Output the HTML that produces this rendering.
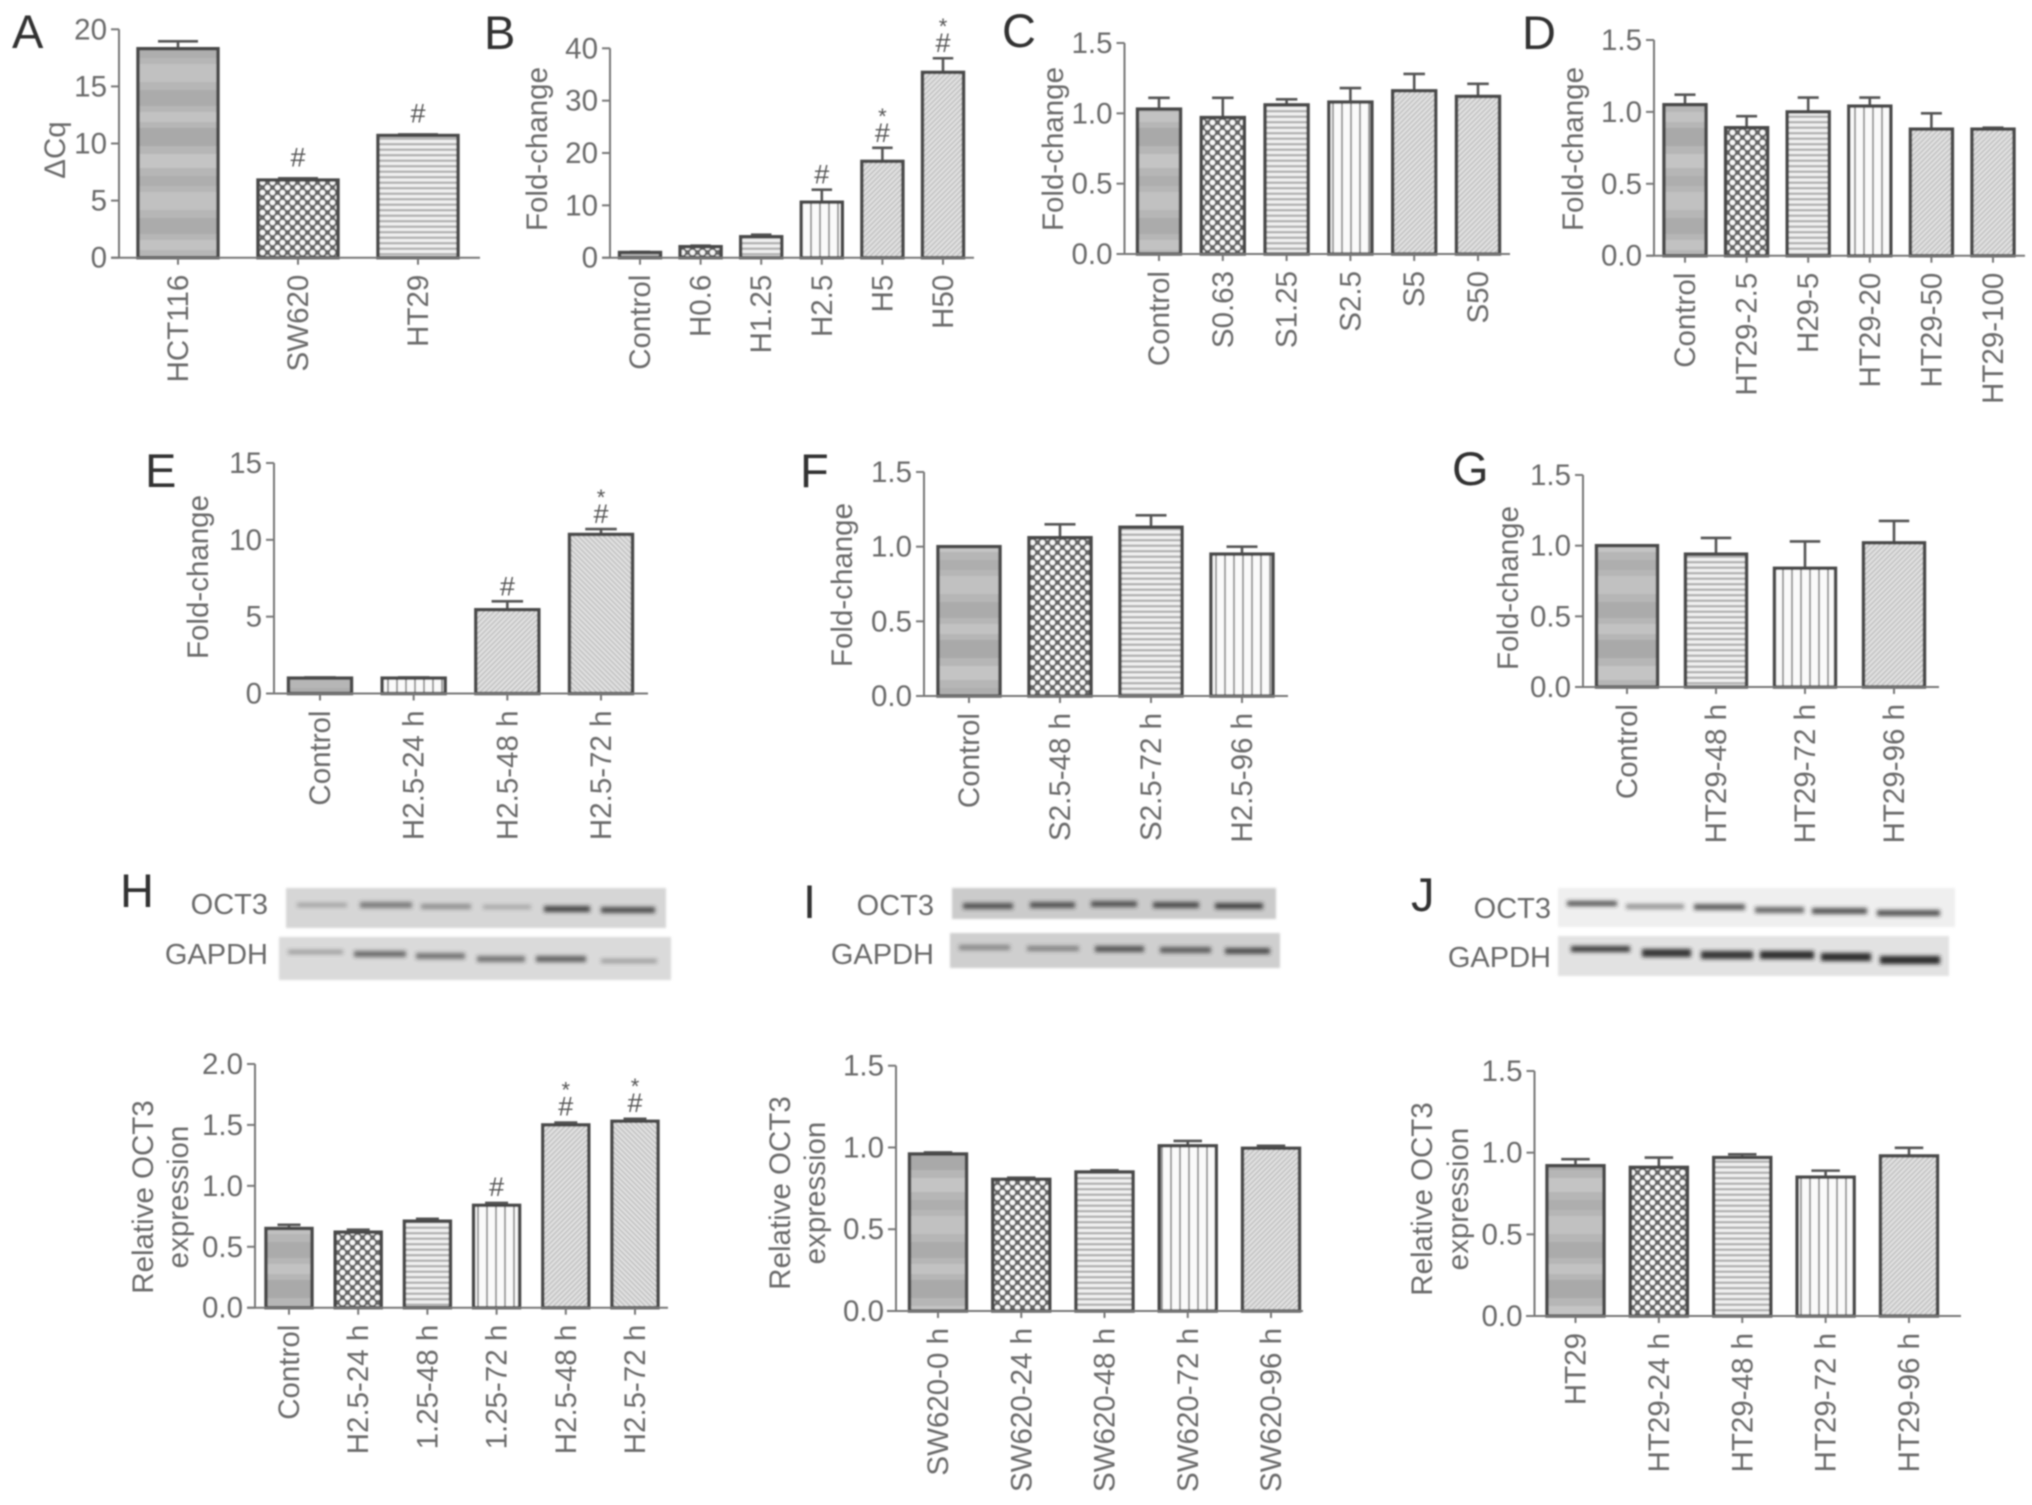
<!DOCTYPE html>
<html lang="en">
<head>
<meta charset="utf-8">
<title>OCT3 expression figure</title>
<style>
html,body{margin:0;padding:0;background:#fff;}
#figure{display:block;width:2032px;height:1505px;background:#fff;}
#figure text{font-family:"Liberation Sans",sans-serif;}
.tick-text,.title-text{fill:#6a6a6a;font-size:29.5px;}
.blot-label{fill:#6a6a6a;font-size:29px;}
.panel-letter{fill:#333;font-size:47px;}
.mark-text{fill:#555;font-size:27px;}
.soft{filter:url(#soft);}
.band{fill:#222;filter:url(#bandblur);}
.blot{filter:url(#edgeblur);}
</style>
</head>
<body>
<svg id="figure" xmlns="http://www.w3.org/2000/svg" width="2032" height="1505" viewBox="0 0 2032 1505">
<defs>
<filter id="soft" x="-2%" y="-2%" width="104%" height="104%"><feGaussianBlur stdDeviation="0.7"/></filter>
<filter id="bandblur" x="-20%" y="-300%" width="140%" height="700%"><feGaussianBlur stdDeviation="2"/></filter>
<filter id="edgeblur" x="-3%" y="-10%" width="106%" height="120%"><feGaussianBlur stdDeviation="1.2"/></filter>
<pattern id="fill-gray" patternUnits="userSpaceOnUse" width="8" height="128">
<rect width="8" height="128" fill="#b6b6b6"/>
<rect y="0" width="8" height="18" fill="#a9a9a9"/>
<rect y="26" width="8" height="14" fill="#c4c4c4"/>
<rect y="48" width="8" height="10" fill="#aeaeae"/>
<rect y="64" width="8" height="18" fill="#c1c1c1"/>
<rect y="90" width="8" height="16" fill="#ababab"/>
<rect y="112" width="8" height="10" fill="#c2c2c2"/>
</pattern>
<pattern id="fill-check" patternUnits="userSpaceOnUse" width="10" height="10">
<rect width="10" height="10" fill="#666"/>
<circle cx="2.5" cy="2.5" r="2.6" fill="#f6f6f6"/>
<circle cx="7.5" cy="7.5" r="2.6" fill="#f6f6f6"/>
</pattern>
<pattern id="fill-hlines" patternUnits="userSpaceOnUse" width="8" height="5.5">
<rect width="8" height="5.5" fill="#f0f0f0"/>
<rect y="0" width="8" height="2.4" fill="#b2b2b2"/>
</pattern>
<pattern id="fill-vlines" patternUnits="userSpaceOnUse" width="9" height="8">
<rect width="9" height="8" fill="#fafafa"/>
<rect x="0" width="2" height="8" fill="#9a9a9a"/>
</pattern>
<pattern id="fill-diag" patternUnits="userSpaceOnUse" width="3.6" height="3.6" patternTransform="rotate(45)">
<rect width="3.6" height="3.6" fill="#e2e2e2"/>
<rect width="1.6" height="3.6" fill="#c2c2c2"/>
</pattern>
<pattern id="fill-diag2" patternUnits="userSpaceOnUse" width="3.6" height="3.6" patternTransform="rotate(-45)">
<rect width="3.6" height="3.6" fill="#e2e2e2"/>
<rect width="1.6" height="3.6" fill="#c2c2c2"/>
</pattern>
</defs>

<g class="soft">
<text class="panel-letter" x="12" y="48">A</text>
<text class="panel-letter" x="484" y="49">B</text>
<text class="panel-letter" x="1002" y="47">C</text>
<text class="panel-letter" x="1522" y="49">D</text>
<text class="panel-letter" x="145" y="487">E</text>
<text class="panel-letter" x="800" y="487">F</text>
<text class="panel-letter" x="1452" y="485">G</text>
<text class="panel-letter" x="120" y="907">H</text>
<text class="panel-letter" x="803" y="918">I</text>
<text class="panel-letter" x="1411" y="911">J</text>
</g>

<g class="soft">
<text class="blot-label" x="268" y="914" text-anchor="end">OCT3</text>
<text class="blot-label" x="268" y="964" text-anchor="end">GAPDH</text>
<text class="blot-label" x="934" y="915" text-anchor="end">OCT3</text>
<text class="blot-label" x="934" y="964" text-anchor="end">GAPDH</text>
<text class="blot-label" x="1551" y="918" text-anchor="end">OCT3</text>
<text class="blot-label" x="1551" y="967" text-anchor="end">GAPDH</text>
</g>

<g>
<rect class="blot" x="286" y="888" width="380" height="40" fill="#d6d6d6"/>
<rect class="band" x="297" y="903" width="50" height="4" opacity=".3"/>
<rect class="band" x="360" y="902" width="52" height="6" opacity=".5"/>
<rect class="band" x="421" y="904" width="50" height="5" opacity=".4"/>
<rect class="band" x="483" y="905" width="48" height="4" opacity=".28"/>
<rect class="band" x="544" y="906" width="46" height="6" opacity=".8"/>
<rect class="band" x="601" y="907" width="54" height="6" opacity=".75"/>
</g>
<g>
<rect class="blot" x="279" y="937" width="392" height="43" fill="#dadada"/>
<rect class="band" x="288" y="950" width="55" height="4" opacity=".35"/>
<rect class="band" x="354" y="951" width="52" height="6" opacity=".6"/>
<rect class="band" x="416" y="953" width="49" height="6" opacity=".55"/>
<rect class="band" x="477" y="956" width="48" height="6" opacity=".55"/>
<rect class="band" x="536" y="956" width="50" height="6" opacity=".65"/>
<rect class="band" x="601" y="959" width="56" height="4" opacity=".35"/>
</g>
<g>
<rect class="blot" x="952" y="888" width="324" height="31" fill="#cbcbcb"/>
<rect class="band" x="963" y="903" width="50" height="6" opacity=".7"/>
<rect class="band" x="1030" y="902" width="45" height="6" opacity=".7"/>
<rect class="band" x="1091" y="901" width="46" height="6" opacity=".7"/>
<rect class="band" x="1153" y="902" width="46" height="6" opacity=".75"/>
<rect class="band" x="1215" y="903" width="48" height="6" opacity=".8"/>
</g>
<g>
<rect class="blot" x="950" y="933" width="330" height="35" fill="#cfcfcf"/>
<rect class="band" x="959" y="945" width="51" height="5" opacity=".42"/>
<rect class="band" x="1027" y="946" width="52" height="5" opacity=".45"/>
<rect class="band" x="1095" y="946" width="49" height="6" opacity=".7"/>
<rect class="band" x="1160" y="947" width="51" height="6" opacity=".65"/>
<rect class="band" x="1225" y="948" width="45" height="6" opacity=".75"/>
</g>
<g>
<rect class="blot" x="1558" y="888" width="397" height="39" fill="#efefef"/>
<rect class="band" x="1567" y="901" width="50" height="5" opacity=".75"/>
<rect class="band" x="1626" y="904" width="58" height="5" opacity=".45"/>
<rect class="band" x="1694" y="904" width="51" height="6" opacity=".7"/>
<rect class="band" x="1755" y="907" width="49" height="6" opacity=".65"/>
<rect class="band" x="1812" y="908" width="55" height="6" opacity=".75"/>
<rect class="band" x="1877" y="910" width="63" height="6" opacity=".75"/>
</g>
<g>
<rect class="blot" x="1558" y="936" width="391" height="40" fill="#e2e2e2"/>
<rect class="band" x="1571" y="946" width="59" height="6" opacity=".85"/>
<rect class="band" x="1642" y="949" width="49" height="8" opacity=".9"/>
<rect class="band" x="1701" y="951" width="52" height="8" opacity=".9"/>
<rect class="band" x="1760" y="951" width="54" height="8" opacity=".95"/>
<rect class="band" x="1821" y="953" width="50" height="8" opacity=".95"/>
<rect class="band" x="1880" y="956" width="60" height="8" opacity=".95"/>
</g>

<g id="charts" class="soft"></g>
</svg>

<script>
const panelACategories = ['HCT116', 'SW620', 'HT29'];
const panelAValues = [18.3, 6.8, 10.7];
const panelAErrors = [0.65, 0.15, 0.1];
const panelAMarks = ['', '#', '#'];
const panelATicks = ['0', '5', '10', '15', '20'];

const panelBCategories = ['Control', 'H0.6', 'H1.25', 'H2.5', 'H5', 'H50'];
const panelBValues = [1.0, 2.1, 4.0, 10.6, 18.4, 35.4];
const panelBErrors = [0.1, 0.2, 0.4, 2.4, 2.6, 2.7];
const panelBMarks = ['', '', '', '#', '#*', '#*'];
const panelBTicks = ['0', '10', '20', '30', '40'];

const panelCCategories = ['Control', 'S0.63', 'S1.25', 'S2.5', 'S5', 'S50'];
const panelCValues = [1.03, 0.97, 1.06, 1.08, 1.16, 1.12];
const panelCErrors = [0.08, 0.14, 0.04, 0.1, 0.12, 0.09];
const panelCMarks = ['', '', '', '', '', ''];
const panelCTicks = ['0.0', '0.5', '1.0', '1.5'];

const panelDCategories = ['Control', 'HT29-2.5', 'H29-5', 'HT29-20', 'HT29-50', 'HT29-100'];
const panelDValues = [1.05, 0.89, 1.0, 1.04, 0.88, 0.88];
const panelDErrors = [0.07, 0.08, 0.1, 0.06, 0.11, 0.01];
const panelDMarks = ['', '', '', '', '', ''];
const panelDTicks = ['0.0', '0.5', '1.0', '1.5'];

const panelECategories = ['Control', 'H2.5-24 h', 'H2.5-48 h', 'H2.5-72 h'];
const panelEValues = [1.0, 1.0, 5.45, 10.35];
const panelEErrors = [0.05, 0.05, 0.55, 0.35];
const panelEMarks = ['', '', '#', '#*'];
const panelETicks = ['0', '5', '10', '15'];

const panelFCategories = ['Control', 'S2.5-48 h', 'S2.5-72 h', 'H2.5-96 h'];
const panelFValues = [1.0, 1.06, 1.13, 0.95];
const panelFErrors = [0, 0.09, 0.08, 0.05];
const panelFMarks = ['', '', '', ''];
const panelFTicks = ['0.0', '0.5', '1.0', '1.5'];

const panelGCategories = ['Control', 'HT29-48 h', 'HT29-72 h', 'HT29-96 h'];
const panelGValues = [1.0, 0.94, 0.84, 1.02];
const panelGErrors = [0, 0.115, 0.19, 0.155];
const panelGMarks = ['', '', '', ''];
const panelGTicks = ['0.0', '0.5', '1.0', '1.5'];

const panelHCategories = ['Control', 'H2.5-24 h', '1.25-48 h', '1.25-72 h', 'H2.5-48 h', 'H2.5-72 h'];
const panelHValues = [0.65, 0.62, 0.71, 0.84, 1.5, 1.53];
const panelHErrors = [0.03, 0.02, 0.02, 0.02, 0.02, 0.02];
const panelHMarks = ['', '', '', '#', '#*', '#*'];
const panelHTicks = ['0.0', '0.5', '1.0', '1.5', '2.0'];

const panelICategories = ['SW620-0 h', 'SW620-24 h', 'SW620-48 h', 'SW620-72 h', 'SW620-96 h'];
const panelIValues = [0.96, 0.805, 0.85, 1.01, 0.995];
const panelIErrors = [0.01, 0.01, 0.01, 0.03, 0.015];
const panelIMarks = ['', '', '', '', ''];
const panelITicks = ['0.0', '0.5', '1.0', '1.5'];

const panelJCategories = ['HT29', 'HT29-24 h', 'HT29-48 h', 'HT29-72 h', 'HT29-96 h'];
const panelJValues = [0.92, 0.91, 0.97, 0.85, 0.98];
const panelJErrors = [0.04, 0.06, 0.02, 0.04, 0.05];
const panelJMarks = ['', '', '', '', ''];
const panelJTicks = ['0.0', '0.5', '1.0', '1.5'];

const panels = [
  {id:'a', cats:panelACategories, vals:panelAValues, errs:panelAErrors, marks:panelAMarks, ticks:panelATicks, fills:['gray','check','hlines'],
   ax:119, l:111, r:480, top:29.3, base:257.7, first:178, last:418, w:80, markGap:12, titles:[['ΔCq',65,150]]},
  {id:'b', cats:panelBCategories, vals:panelBValues, errs:panelBErrors, marks:panelBMarks, ticks:panelBTicks, fills:['gray','check','hlines','vlines','diag','diag'],
   ax:610, l:602, r:974, top:48.3, base:257.7, first:640, last:943, w:41, markGap:6, titles:[['Fold-change',547,149]]},
  {id:'c', cats:panelCCategories, vals:panelCValues, errs:panelCErrors, marks:panelCMarks, ticks:panelCTicks, fills:['gray','check','hlines','vlines','diag','diag'],
   ax:1124.5, l:1117, r:1510, top:43, base:254, first:1159, last:1478, w:43, markGap:6, titles:[['Fold-change',1063,149]]},
  {id:'d', cats:panelDCategories, vals:panelDValues, errs:panelDErrors, marks:panelDMarks, ticks:panelDTicks, fills:['gray','check','hlines','vlines','diag','diag'],
   ax:1654, l:1646, r:2025, top:40, base:255.7, first:1685, last:1993, w:42, markGap:6, titles:[['Fold-change',1583,149]]},
  {id:'e', cats:panelECategories, vals:panelEValues, errs:panelEErrors, marks:panelEMarks, ticks:panelETicks, fills:['gray','vlines','diag','diag2'],
   ax:274, l:266, r:648, top:463, base:693.5, first:320, last:601, w:63, markGap:6, titles:[['Fold-change',208,577]]},
  {id:'f', cats:panelFCategories, vals:panelFValues, errs:panelFErrors, marks:panelFMarks, ticks:panelFTicks, fills:['gray','check','hlines','vlines'],
   ax:924, l:917, r:1288, top:472, base:696, first:969, last:1242, w:62, markGap:6, titles:[['Fold-change',852,585]]},
  {id:'g', cats:panelGCategories, vals:panelGValues, errs:panelGErrors, marks:panelGMarks, ticks:panelGTicks, fills:['gray','hlines','vlines','diag'],
   ax:1583, l:1575, r:1939, top:475, base:687, first:1627, last:1894, w:61, markGap:6, titles:[['Fold-change',1518,588]]},
  {id:'h', cats:panelHCategories, vals:panelHValues, errs:panelHErrors, marks:panelHMarks, ticks:panelHTicks, fills:['gray','check','hlines','vlines','diag','diag2'],
   ax:255, l:247, r:668, top:1064, base:1307.7, first:289, last:635, w:46, markGap:7, titles:[['Relative OCT3',153,1197],['expression',188,1197]]},
  {id:'i', cats:panelICategories, vals:panelIValues, errs:panelIErrors, marks:panelIMarks, ticks:panelITicks, fills:['gray','check','hlines','vlines','diag'],
   ax:896, l:887, r:1303, top:1065.7, base:1311, first:938, last:1271, w:57, markGap:6, titles:[['Relative OCT3',790,1193],['expression',825,1193]]},
  {id:'j', cats:panelJCategories, vals:panelJValues, errs:panelJErrors, marks:panelJMarks, ticks:panelJTicks, fills:['gray','check','hlines','vlines','diag'],
   ax:1534.5, l:1526, r:1961, top:1071, base:1316, first:1575.5, last:1909, w:57, markGap:6, titles:[['Relative OCT3',1432,1199],['expression',1468,1199]]}
];

const NS = 'http://www.w3.org/2000/svg';
const root = document.getElementById('charts');

function make(parent, tag, attrs, text) {
  const node = document.createElementNS(NS, tag);
  for (const key in attrs) node.setAttribute(key, attrs[key]);
  if (text !== undefined) node.textContent = text;
  parent.appendChild(node);
  return node;
}

function drawPanel(p) {
  const g = make(root, 'g', {});
  
  

  const tickNums = p.ticks.map(Number);
  const yMax = Math.max.apply(null, tickNums);
  const yScale = function (v) { return p.base - (v / yMax) * (p.base - p.top); };
  const xScale = function (i) { return p.first + i * (p.last - p.first) / (p.cats.length - 1); };

  p.titles.forEach(function (t) {
    const title = make(g, 'text', {'class':'title-text', 'text-anchor':'middle', transform:'translate(' + t[1] + ',' + t[2] + ') rotate(-90)'}, t[0]);
    
    
  });

  p.vals.forEach(function (v, i) {
    const cx = xScale(i);
    const yv = yScale(v);
    const yt = yScale(v + p.errs[i]);
    if (p.errs[i] > 0) {
      const errLine = make(g, 'path', {d:'M' + cx + ' ' + yv + 'V' + yt + 'M' + (cx - p.w / 4) + ' ' + yt + 'H' + (cx + p.w / 4), fill:'none', stroke:'#555', 'stroke-width':2.6});
      
      
    }
    const bar = make(g, 'rect', {x:cx - p.w / 2, y:yv, width:p.w, height:p.base - yv, fill:'url(#fill-' + p.fills[i] + ')', stroke:'#484848', 'stroke-width':3.4});
    
    

    const mark = p.marks[i];
    if (mark.indexOf('#') >= 0) {
      const hash = make(g, 'text', {'class':'mark-text', x:cx, y:yt - p.markGap, 'text-anchor':'middle'}, '#');
      
      
    }
    if (mark.indexOf('*') >= 0) {
      const star = make(g, 'text', {'class':'mark-text', x:cx, y:yt - p.markGap - 18, 'text-anchor':'middle', style:'font-size:22px'}, '*');
      
      
    }

    const tick = make(g, 'line', {x1:cx, x2:cx, y1:p.base, y2:p.base + 7, stroke:'#777', 'stroke-width':2});
    
    

    const lab = make(g, 'text', {'class':'tick-text', 'text-anchor':'end', transform:'translate(' + (cx + 10) + ',' + (p.base + 17) + ') rotate(-90)'}, p.cats[i]);
    
    
  });

  const yAxis = make(g, 'line', {x1:p.ax, x2:p.ax, y1:p.top, y2:p.base, stroke:'#777', 'stroke-width':2});
  
  
  const xAxis = make(g, 'line', {x1:p.l, x2:p.r, y1:p.base, y2:p.base, stroke:'#777', 'stroke-width':2});
  
  

  p.ticks.forEach(function (label, i) {
    const ty = yScale(tickNums[i]);
    const tk = make(g, 'line', {x1:p.ax - 8, x2:p.ax, y1:ty, y2:ty, stroke:'#777', 'stroke-width':2});
    
    
    const tl = make(g, 'text', {'class':'tick-text', x:p.ax - 12, y:ty + 10, 'text-anchor':'end'}, label);
    
    
  });
}

panels.forEach(drawPanel);
</script>
</body>
</html>
